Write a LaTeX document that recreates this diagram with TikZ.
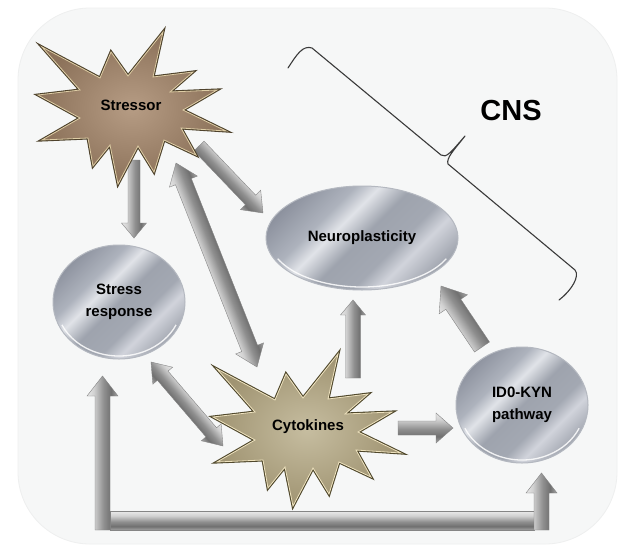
\documentclass[tikz,border=0pt]{standalone}
\usepackage{fontspec}
\setmainfont{Liberation Sans}
\usetikzlibrary{shapes.geometric,calc}
\pgfdeclarelayer{back}
\pgfdeclarelayer{arr}
\pgfsetlayers{back,arr,main}
\definecolor{bgfill}{HTML}{F6F7F7}
\definecolor{bgline}{HTML}{EEEFEF}
\definecolor{arrline}{HTML}{858585}
\definecolor{ellline}{HTML}{B4B8C0}
\definecolor{bracecol}{HTML}{3A3A3A}
\pgfdeclareverticalshading{metal}{100bp}{rgb(0bp)=(0.50,0.52,0.56); rgb(22bp)=(0.58,0.60,0.64); rgb(34bp)=(0.82,0.83,0.86); rgb(40bp)=(0.64,0.66,0.70); rgb(50bp)=(0.62,0.64,0.68); rgb(58bp)=(0.88,0.89,0.91); rgb(64bp)=(0.68,0.70,0.74); rgb(78bp)=(0.53,0.55,0.60); rgb(100bp)=(0.46,0.48,0.53)}
\pgfdeclareverticalshading{barmetal}{100bp}{rgb(0bp)=(0.64,0.64,0.64); rgb(25bp)=(0.66,0.66,0.66); rgb(36bp)=(0.44,0.44,0.44); rgb(48bp)=(0.56,0.56,0.56); rgb(64bp)=(0.82,0.82,0.82); rgb(75bp)=(0.91,0.91,0.91); rgb(100bp)=(0.91,0.91,0.91)}
\tikzset{
  arrsty/.style={shading=barmetal, draw=arrline, line width=0.4pt},
  metalell/.style={ellipse, inner sep=0pt, shade, shading=metal, shading angle=45,
    draw=ellline, line width=1pt, font=\bfseries\fontsize{15}{21.5}\selectfont, align=center},
  lbl/.style={font=\bfseries\fontsize{15}{21.5}\selectfont, inner sep=0pt},
  rim/.style={white, line width=1.3pt, opacity=0.85},
  stressorsty/.style={inner color={rgb,255:red,182;green,156;blue,132}, outer color={rgb,255:red,140;green,114;blue,90},
    preaction={draw={rgb,255:red,78;green,66;blue,44}, line width=3pt, line join=miter},
    draw={rgb,255:red,222;green,205;blue,165}, line width=0.8pt},
  cytosty/.style={inner color={rgb,255:red,198;green,189;blue,160}, outer color={rgb,255:red,160;green,148;blue,114},
    preaction={draw={rgb,255:red,80;green,72;blue,44}, line width=3pt, line join=miter},
    draw={rgb,255:red,238;green,226;blue,190}, line width=0.8pt}
}
% single block arrow: [opts]{from}{to}{half shaft}{half head}{head length}
\newcommand\blkarrow[6][]{%
  \pgfpointanchor{#2}{center}\pgfgetlastxy\bax\bay
  \pgfpointanchor{#3}{center}\pgfgetlastxy\bbx\bby
  \pgfmathsetmacro\bang{atan2((\bby)-(\bay),(\bbx)-(\bax))}%
  \pgfmathsetmacro\blen{veclen((\bbx)-(\bax),(\bby)-(\bay))}%
  \pgfmathsetmacro\bneck{\blen-#6}%
  \begin{scope}[transform canvas={shift={(\bax,\bay)},rotate=\bang}]
    \shadedraw[arrsty,#1] (0pt,-#4pt) -- (\bneck pt,-#4pt) -- (\bneck pt,-#5pt) -- (\blen pt,0pt)
      -- (\bneck pt,#5pt) -- (\bneck pt,#4pt) -- (0pt,#4pt) -- cycle;
  \end{scope}}
% double block arrow
\newcommand\dblarrow[6][]{%
  \pgfpointanchor{#2}{center}\pgfgetlastxy\bax\bay
  \pgfpointanchor{#3}{center}\pgfgetlastxy\bbx\bby
  \pgfmathsetmacro\bang{atan2((\bby)-(\bay),(\bbx)-(\bax))}%
  \pgfmathsetmacro\blen{veclen((\bbx)-(\bax),(\bby)-(\bay))}%
  \pgfmathsetmacro\bneck{\blen-#6}%
  \begin{scope}[transform canvas={shift={(\bax,\bay)},rotate=\bang}]
    \shadedraw[arrsty,#1] (0pt,0pt) -- (#6pt,#5pt) -- (#6pt,#4pt) -- (\bneck pt,#4pt) -- (\bneck pt,#5pt)
      -- (\blen pt,0pt) -- (\bneck pt,-#5pt) -- (\bneck pt,-#4pt) -- (#6pt,-#4pt) -- (#6pt,-#5pt) -- cycle;
  \end{scope}}
\def\burst{(-88,-61) -- (-30,-30) -- (-19,-56) -- (-2,-32) -- (33,-76) -- (23,-31) -- (63,-36) -- (40,-16)
  -- (87,-18) -- (53,2) -- (96,23) -- (51,20) -- (66,47) -- (34,32) -- (24,64) -- (8,38) -- (-12,76)
  -- (-20,37) -- (-37,58) -- (-42,30) -- (-88,32) -- (-50,10) -- (-92,-13) -- (-50,-18) -- cycle}
\begin{document}
\begin{tikzpicture}[x=1pt,y=-1pt]
\useasboundingbox (0,0) rectangle (623,546);
\begin{pgfonlayer}{back}
  \fill[white] (0,0) rectangle (623,546);
  \filldraw[fill=bgfill, draw=bgline, line width=0.8pt, rounded corners=72pt] (18,8) rectangle (617,544);
\end{pgfonlayer}

% centres of the two bursts
\coordinate (st) at (130,108);
\coordinate (cy) at (305,430);

% bursts
\shadedraw[shift={(st)}, stressorsty] \burst;
\shadedraw[shift={(cy)}, cytosty] \burst;
\node[lbl] (stressor) at (131,105) {Stressor};
\node[lbl] (cytokines) at (308,427) {Cytokines};

% ellipses
\node[metalell, minimum width=132pt, minimum height=114pt] (sr) at (119,302) {Stress\\response};
\node[metalell, minimum width=192pt, minimum height=104pt] (np) at (362,238) {Neuroplasticity};
\node[metalell, minimum width=132pt, minimum height=116pt] (ido) at (522,405) {ID0-KYN\\pathway};
\draw[rim] ($(sr)+({63*cos(205)},{-54*sin(205)})$) arc[start angle=205, end angle=335, x radius=63pt, y radius=54pt];
\draw[rim] ($(np)+({93*cos(205)},{-49*sin(205)})$) arc[start angle=205, end angle=335, x radius=93pt, y radius=49pt];
\draw[rim] ($(ido)+({63*cos(205)},{-55*sin(205)})$) arc[start angle=205, end angle=335, x radius=63pt, y radius=55pt];

% CNS label and brace
\node[font=\bfseries\fontsize{29}{32}\selectfont, inner sep=0pt] (cns) at (511,111) {CNS};
\draw[bracecol, line width=1.1pt, line cap=round, line join=round]
  (288,68) .. controls (297,54) and (303,45) .. (312,48) -- (441,155)
  .. controls (446,159) and (452,151) .. (465,136)
  .. controls (454,150) and (446,158) .. (448,164) -- (575,270)
  .. controls (580,276) and (572,290) .. (559,300);

% arrow end points
\coordinate (a1s) at ($(st)+(4,52)$);   \coordinate (a1e) at ($(sr)+(15,-64)$);
\coordinate (a2s) at ($(st)+(69,38)$);  \coordinate (a2e) at ($(np)+(-99,-25)$);
\coordinate (a3s) at ($(cy)+(-48,-63)$); \coordinate (a3e) at ($(st)+(46,55)$);
\coordinate (a4s) at ($(sr)+(32,60)$);  \coordinate (a4e) at ($(cy)+(-82,16)$);
\coordinate (a5s) at ($(cy)+(48,-52)$); \coordinate (a5e) at ($(np)+(-9,62)$);
\coordinate (a6s) at ($(cy)+(93,-2)$);  \coordinate (a6e) at ($(ido)+(-69,23)$);
\coordinate (a7s) at ($(ido)+(-40,-58)$); \coordinate (a7e) at ($(np)+(79,48)$);
\coordinate (ul) at ($(sr)+(-16.5,74)$);  \coordinate (ulb) at (102.5,530);
\coordinate (uhs) at (110,521);           \coordinate (uhe) at (534,521);
\coordinate (ur) at ($(ido)+(19.5,68)$);  \coordinate (urb) at (541.5,530);

\begin{pgfonlayer}{arr}
  \blkarrow[shading angle=180]{a1s}{a1e}{6}{12.5}{15}
  \blkarrow{a2s}{a2e}{7}{14}{18}
  \dblarrow{a3s}{a3e}{8.5}{15}{20}
  \dblarrow{a4s}{a4e}{7}{13}{18}
  \blkarrow{a5s}{a5e}{7.5}{12.5}{15}
  \blkarrow{a6s}{a6e}{7}{15}{17}
  \blkarrow{a7s}{a7e}{9}{17}{22}
  \blkarrow{uhs}{uhe}{9.5}{9.5}{0}
  \blkarrow{ulb}{ul}{7.5}{15.5}{20}
  \blkarrow{urb}{ur}{7.5}{15.5}{20}
\end{pgfonlayer}
\end{tikzpicture}
\end{document}
